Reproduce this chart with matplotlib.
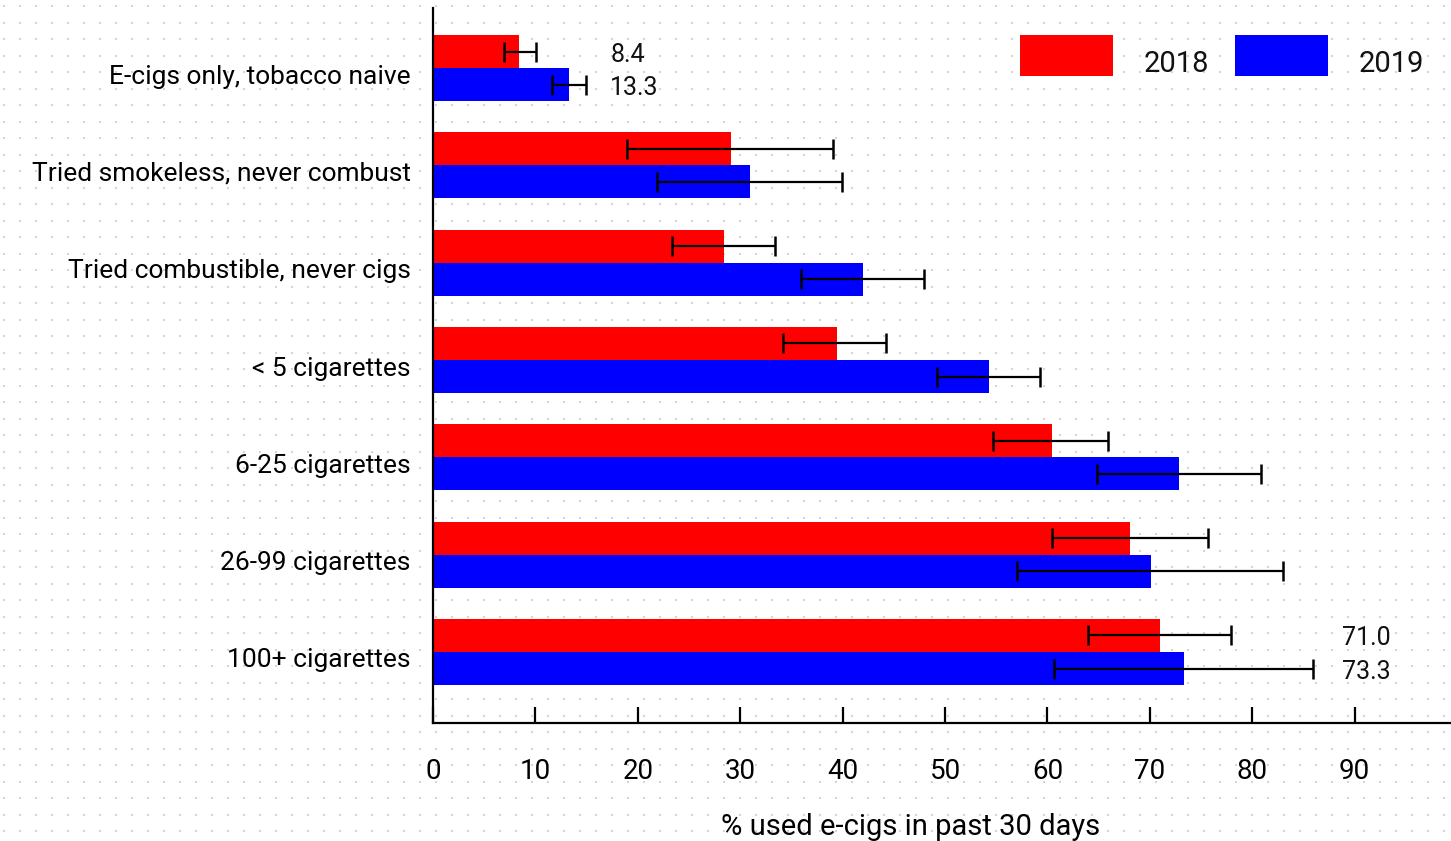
import matplotlib
matplotlib.use("Agg")
import matplotlib.pyplot as plt
from matplotlib.patches import Rectangle
from matplotlib.transforms import ScaledTranslation
import numpy as np

plt.rcParams['font.family'] = ['Roboto', 'DejaVu Sans']

categories = [
    "E-cigs only, tobacco naive",
    "Tried smokeless, never combust",
    "Tried combustible, never cigs",
    "< 5 cigarettes",
    "6-25 cigarettes",
    "26-99 cigarettes",
    "100+ cigarettes",
]
years = ["2018", "2019"]

pct_2018 = [8.4, 29.1, 28.4, 39.4, 60.4, 68.1, 71.0]
lo_2018 = [6.9, 18.9, 23.3, 34.2, 54.7, 60.4, 64.0]
hi_2018 = [10.1, 39.1, 33.4, 44.2, 65.9, 75.7, 77.9]

pct_2019 = [13.3, 31.0, 42.0, 54.3, 72.8, 70.1, 73.3]
lo_2019 = [11.6, 21.9, 35.9, 49.2, 64.8, 57.0, 60.6]
hi_2019 = [14.9, 39.9, 47.9, 59.3, 80.8, 83.0, 85.9]

# value labels shown for the first and last groups
label_groups = [0, 6]
label_x = {0: 17.3, 6: 88.8}

colors = ["#ff0000", "#0000ff"]

W, H = 1451, 841
fig = plt.figure(figsize=(W / 100, H / 100), dpi=100)

# dotted backdrop over the whole figure
bg = fig.add_axes([0, 0, 1, 1], zorder=-10)
bg.set_xlim(0, W)
bg.set_ylim(H, 0)
gx, gy = np.meshgrid(np.arange(4, W, 16), np.arange(6, H, 16.5))
bg.scatter(gx.ravel(), gy.ravel(), s=1.6, color="#d4d4d4", marker="s", linewidths=0)
bg.axis("off")

ax = fig.add_axes([433 / W, 1 - 723 / H, 1 - 433 / W, (723 - 8) / H])
ax.patch.set_alpha(0)

y = np.arange(len(categories))
h = 0.34
series = [(pct_2018, lo_2018, hi_2018), (pct_2019, lo_2019, hi_2019)]
down = ScaledTranslation(0, -3 / 100, fig.dpi_scale_trans)
for i, (vals, lo, hi) in enumerate(series):
    vals = np.array(vals)
    yy = y - h / 2 + i * h
    ax.barh(yy, vals, height=h, color=colors[i], label=years[i], zorder=2)
    err = [vals - np.array(lo), np.array(hi) - vals]
    ax.errorbar(vals, yy, xerr=err, fmt="none", ecolor="black", elinewidth=1.6,
                capsize=7, capthick=1.8, zorder=3)
    for g in label_groups:
        ax.text(label_x[g], yy[g], f"{vals[g]:.1f}", ha="left", va="center",
                fontsize=18, color="#111111", transform=ax.transData + down)

ax.set_xlim(0, 99.4)
ax.set_ylim(6.73, -0.617)
ax.set_yticks(y)
ax.set_yticklabels(categories, fontsize=19)
ax.tick_params(axis="y", length=0, pad=16)
label_shift = ScaledTranslation(0, -6 / 100, fig.dpi_scale_trans)
for lbl in ax.get_yticklabels():
    lbl.set_transform(lbl.get_transform() + label_shift)
ax.set_xticks(np.arange(0, 100, 10))
ax.tick_params(axis="x", direction="in", length=11.5, width=1.6, labelsize=20, pad=25)

for s in ["top", "right"]:
    ax.spines[s].set_visible(False)
for s in ["left", "bottom"]:
    ax.spines[s].set_linewidth(1.6)

ax.set_xlabel("% used e-cigs in past 30 days", fontsize=21, va="top")
ax.xaxis.set_label_coords((911 - 433) / (W - 433), -(813 - 723) / (723 - 8))

# legend: colour swatches with year labels to their lower right
swatch_x = [1020, 1235]
for i, yr in enumerate(years):
    x0 = swatch_x[i]
    fig.patches.append(Rectangle((x0 / W, 1 - 76 / H), 93 / W, 41 / H,
                                 transform=fig.transFigure, facecolor=colors[i],
                                 edgecolor="none"))
    fig.text((x0 + 124) / W, 1 - 64 / H, yr, fontsize=21, ha="left", va="center",
             color="#111111")

fig.savefig("out.png", dpi=100)
